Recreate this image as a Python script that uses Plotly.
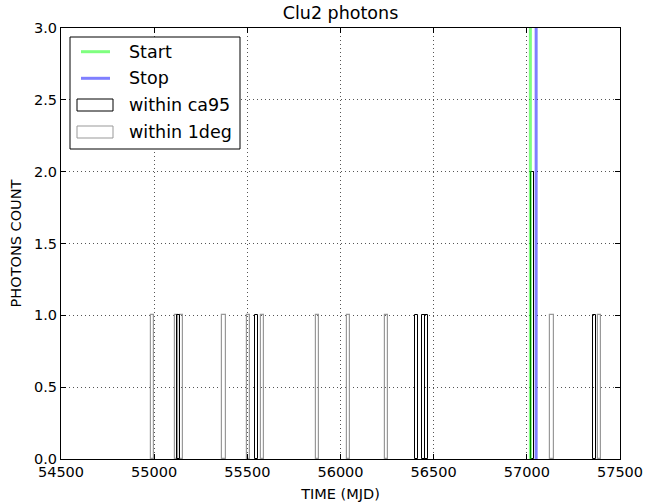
import plotly.graph_objects as go

# ---------------- data ----------------
title_text = "Clu2 photons"
x_label = "TIME (MJD)"
y_label = "PHOTONS COUNT"

# histogram bins (bin centres in MJD) and counts
ca95_mjd = [55131, 55550, 56410, 56446, 56462, 57030, 57361]
ca95_counts = [1, 1, 1, 1, 1, 2, 1]
deg1_mjd = [54992, 55120, 55148, 55375, 55508, 55583, 55875, 56043, 56245, 57135, 57388]
deg1_counts = [1, 1, 1, 1, 1, 1, 1, 1, 1, 1, 1]
bin_width = 17

start_mjd = 57019
stop_mjd = 57050

legend_labels = ["Start", "Stop", "within ca95", "within 1deg"]
x_ticks = [54500, 55000, 55500, 56000, 56500, 57000, 57500]
y_ticks = [0.0, 0.5, 1.0, 1.5, 2.0, 2.5, 3.0]

# ---------------- style ----------------
W, H = 654, 504
L, R, T, B = 61, 34, 28, 45
PW, PH = W - L - R, H - T - B
FONT = "DejaVu Sans"
GREEN = "rgba(0,255,0,0.5)"
BLUE = "rgba(0,0,255,0.5)"
GRAY = "#999999"
BLACK = "#000000"


def px(xp):
    return (xp - L) / PW


def py(yp):
    return (H - B - yp) / PH


fig = go.Figure()

fig.add_trace(go.Bar(
    x=deg1_mjd, y=deg1_counts, width=bin_width,
    marker=dict(color="rgba(0,0,0,0)", line=dict(color=GRAY, width=1.2)),
    name=legend_labels[3], showlegend=False,
))
fig.add_trace(go.Bar(
    x=ca95_mjd, y=ca95_counts, width=bin_width,
    marker=dict(color="rgba(0,0,0,0)", line=dict(color=BLACK, width=1)),
    name=legend_labels[2], showlegend=False,
))
fig.add_trace(go.Scatter(
    x=[start_mjd, start_mjd], y=[y_ticks[0], y_ticks[-1]], mode="lines",
    line=dict(color=GREEN, width=3), name=legend_labels[0], showlegend=False,
))
fig.add_trace(go.Scatter(
    x=[stop_mjd, stop_mjd], y=[y_ticks[0], y_ticks[-1]], mode="lines",
    line=dict(color=BLUE, width=3), name=legend_labels[1], showlegend=False,
))

# ---------------- manual legend ----------------
shapes = []
annotations = []
shapes.append(dict(type="rect", xref="paper", yref="paper",
                   x0=px(70), x1=px(240), y0=py(149), y1=py(37),
                   line=dict(color=BLACK, width=1), fillcolor="white", layer="above"))
row_y = [51.7, 78.3, 105, 132]
shapes.append(dict(type="line", xref="paper", yref="paper",
                   x0=px(81), x1=px(110), y0=py(row_y[0]), y1=py(row_y[0]),
                   line=dict(color=GREEN, width=3), layer="above"))
shapes.append(dict(type="line", xref="paper", yref="paper",
                   x0=px(81), x1=px(110), y0=py(row_y[1]), y1=py(row_y[1]),
                   line=dict(color=BLUE, width=3), layer="above"))
shapes.append(dict(type="rect", xref="paper", yref="paper",
                   x0=px(77), x1=px(113), y0=py(row_y[2] + 6), y1=py(row_y[2] - 6),
                   line=dict(color=BLACK, width=1), fillcolor="rgba(0,0,0,0)", layer="above"))
shapes.append(dict(type="rect", xref="paper", yref="paper",
                   x0=px(77), x1=px(113), y0=py(row_y[3] + 6), y1=py(row_y[3] - 6),
                   line=dict(color=GRAY, width=1), fillcolor="rgba(0,0,0,0)", layer="above"))
for lab, yy in zip(legend_labels, row_y):
    annotations.append(dict(text=lab, xref="paper", yref="paper", x=px(127), y=py(yy),
                            xanchor="left", yanchor="middle", showarrow=False,
                            font=dict(family=FONT, size=17.5, color=BLACK)))

axis_common = dict(
    showline=True, linecolor=BLACK, linewidth=1, mirror="ticks",
    ticks="inside", ticklen=5, tickcolor=BLACK, tickwidth=1,
    showgrid=True, gridcolor="#555555", gridwidth=1, griddash="1px,3px",
    zeroline=False, automargin=False,
    tickfont=dict(family=FONT, size=14.5, color=BLACK),
)

fig.update_layout(
    width=W, height=H,
    margin=dict(l=L, r=R, t=T, b=B),
    paper_bgcolor="white", plot_bgcolor="white",
    barmode="overlay", bargap=0,
    showlegend=False,
    font=dict(family=FONT, color=BLACK),
    title=dict(text=title_text, x=0.5, xref="paper", y=(H - 13) / H, yref="container",
               xanchor="center", yanchor="middle",
               font=dict(family=FONT, size=17.5, color=BLACK)),
    xaxis=dict(range=[x_ticks[0], x_ticks[-1]], tickvals=x_ticks, tickformat="d",
               title=dict(text=x_label, font=dict(family=FONT, size=14.5, color=BLACK), standoff=9),
               **axis_common),
    yaxis=dict(range=[y_ticks[0], y_ticks[-1]], tickvals=y_ticks, tickformat=".1f",
               title=dict(text=y_label, font=dict(family=FONT, size=14.5, color=BLACK), standoff=8),
               **axis_common),
    shapes=shapes,
    annotations=annotations,
)

fig.write_html("out.html")
